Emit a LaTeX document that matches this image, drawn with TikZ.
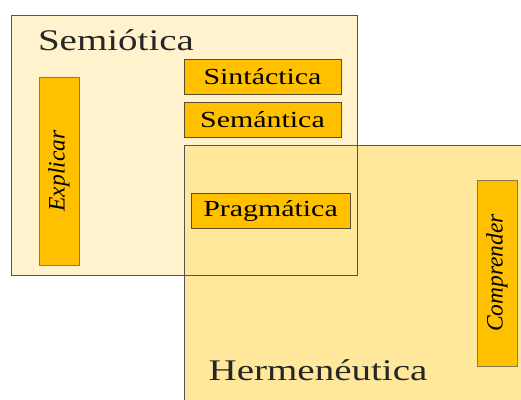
\documentclass[tikz,border=0pt]{standalone}
\usepackage{fontspec}
\setmainfont[FakeStretch=1.3]{Liberation Serif}
\newfontfamily\uprightfont{Liberation Serif}
\definecolor{semfill}{HTML}{FFF2CC}
\definecolor{herfill}{HTML}{FFE79C}
\definecolor{boxfill}{HTML}{FFC000}
\definecolor{boxline}{HTML}{5E4E2C}
\definecolor{palebox}{HTML}{8C7A52}
\definecolor{frameline}{HTML}{555555}
\begin{document}
\begin{tikzpicture}
[
    x=1pt, y=-1pt,
    area/.style={draw=frameline, thick, minimum width=#1, inner sep=0pt},
    title/.style={font=\fontsize{30}{34}\selectfont, text=black!85},
    term/.style={draw=boxline, thick, fill=boxfill, minimum width=157, minimum height=35,
        inner sep=0pt, font=\fontsize{23}{26}\selectfont},
    verb/.style={draw=palebox, thick, fill=boxfill, rotate=90, minimum height=40,
        inner sep=0pt, font=\uprightfont\itshape\fontsize{23.5}{26}\selectfont}
]
    \clip (0,0) rectangle (521,399);
    \fill[white] (0,0) rectangle (521,399);

    % the two fields
    \node [area=346, minimum height=260, fill=semfill] (semiotica) at (184,145) {};
    \node [area=360, minimum height=280, fill=herfill] (hermeneutica) at (364,285) {};
    \node [area=346, minimum height=260] (semframe) at (184,145) {};

    \node [title] (semtitle) at (116,40) {Semiótica};
    \node [title] (hertitle) at (318,370) {Hermenéutica};

    \node [term] (sintactica) at (262.5,76.5) {Sintáctica};
    \node [term] (semantica) at (262.5,119.5) {Semántica};
    \node [term, minimum width=159] (pragmatica) at (270.5,210.5) {Pragmática};

    \node [verb, minimum width=188] (explicar) at (59,171) {Explicar};
    \node [verb, minimum width=186] (comprender) at (497,273) {Comprender};
\end{tikzpicture}
\end{document}
